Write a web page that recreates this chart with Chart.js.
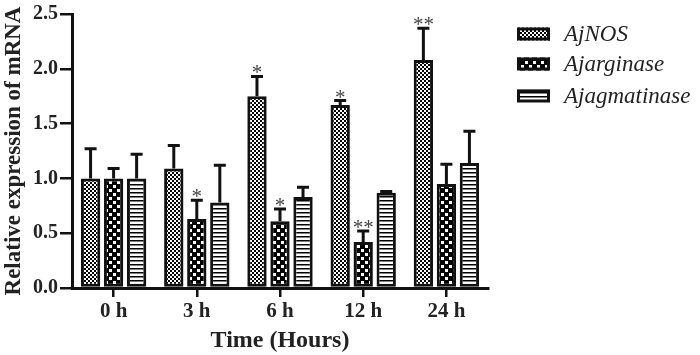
<!DOCTYPE html>
<html>
<head>
<meta charset="utf-8">
<script src="https://cdn.jsdelivr.net/npm/chart.js@4.4.1/dist/chart.umd.min.js"></script>
<style>
  html, body { margin: 0; padding: 0; background: #fff; }
  #wrap { width: 700px; height: 355px; position: relative; }
</style>
</head>
<body>
<div id="wrap"><canvas id="c" width="700" height="355"></canvas></div>
<script>
// ---- data ----
const categories = ['0 h', '3 h', '6 h', '12 h', '24 h'];
const seriesNames = ['AjNOS', 'Ajarginase', 'Ajagmatinase'];
const nosValues = [1.00, 1.09, 1.75, 1.67, 2.08];
const nosSD     = [0.27, 0.21, 0.18, 0.04, 0.29];
const nosSig    = ['', '', '*', '*', '**'];
const argValues = [1.00, 0.63, 0.61, 0.42, 0.95];
const argSD     = [0.09, 0.17, 0.11, 0.10, 0.18];
const argSig    = ['', '*', '*', '**', ''];
const agmValues = [1.00, 0.78, 0.83, 0.87, 1.14];
const agmSD     = [0.22, 0.34, 0.09, 0.01, 0.29];
const agmSig    = ['', '', '', '', ''];
const yTicks    = [0, 0.5, 1.0, 1.5, 2.0, 2.5];

const SERIF = "'Liberation Serif', 'Times New Roman', serif";

// ---- fill patterns ----
function makePattern(w, h, draw) {
  const cv = document.createElement('canvas');
  cv.width = w; cv.height = h;
  const g = cv.getContext('2d');
  g.fillStyle = '#fff'; g.fillRect(0, 0, w, h);
  g.fillStyle = '#000';
  draw(g);
  return document.getElementById('c').getContext('2d').createPattern(cv, 'repeat');
}
const patNOS = makePattern(4, 4, g => { g.fillRect(0, 0, 2, 2); g.fillRect(2, 2, 2, 2); });
const patARG = makePattern(8, 8, g => {
  g.fillRect(0, 0, 8, 8);
  g.fillStyle = '#fff';
  g.fillRect(1, 1, 3, 3); g.fillRect(5, 5, 3, 3);
});
const patAGM = makePattern(4, 4, g => { g.fillRect(0, 0, 4, 1.5); });

const errArrays = [nosSD, argSD, agmSD];
const sigArrays = [nosSig, argSig, agmSig];

const errorBarPlugin = {
  id: 'errorBars',
  afterDatasetsDraw(chart) {
    const ctx = chart.ctx;
    const ys = chart.scales.y;
    ctx.save();
    chart.data.datasets.forEach((ds, i) => {
      const meta = chart.getDatasetMeta(i);
      meta.data.forEach((bar, j) => {
        const v = ds.data[j];
        const top = ys.getPixelForValue(v + errArrays[i][j]);
        ctx.strokeStyle = '#111';
        ctx.lineWidth = 3;
        ctx.beginPath();
        ctx.moveTo(bar.x, bar.y);
        ctx.lineTo(bar.x, top);
        ctx.moveTo(bar.x - 6, top);
        ctx.lineTo(bar.x + 6, top);
        ctx.stroke();
        const s = sigArrays[i][j];
        if (s) {
          ctx.fillStyle = '#444';
          ctx.font = '21px ' + SERIF;
          ctx.textAlign = 'center';
          ctx.textBaseline = 'alphabetic';
          ctx.fillText(s, bar.x, top + 3);
        }
      });
    });
    ctx.restore();
  }
};

const legendPlugin = {
  id: 'sideLegend',
  afterDraw(chart) {
    const ctx = chart.ctx;
    ctx.save();
    const x0 = 517, bw = 33, bh = 13;
    const rows = [34, 64, 96];
    chart.data.datasets.forEach((ds, i) => {
      const cy = rows[i];
      ctx.fillStyle = ds.backgroundColor;
      ctx.fillRect(x0, cy - bh / 2, bw, bh);
      ctx.strokeStyle = '#111';
      ctx.lineWidth = 3;
      ctx.strokeRect(x0 + 1.5, cy - bh / 2 + 1.5, bw - 3, bh - 3);
      ctx.fillStyle = '#222';
      ctx.font = 'italic 23px ' + SERIF;
      ctx.textAlign = 'left';
      ctx.textBaseline = 'middle';
      ctx.fillText(ds.label, 564, cy + 1);
    });
    ctx.restore();
  }
};

const common = { borderColor: '#111', borderWidth: 3, borderSkipped: false,
                 categoryPercentage: 0.83, barPercentage: 0.84 };

new Chart(document.getElementById('c'), {
  type: 'bar',
  data: {
    labels: categories,
    datasets: [
      Object.assign({ label: seriesNames[0], data: nosValues, backgroundColor: patNOS }, common),
      Object.assign({ label: seriesNames[1], data: argValues, backgroundColor: patARG }, common),
      Object.assign({ label: seriesNames[2], data: agmValues, backgroundColor: patAGM }, common)
    ]
  },
  options: {
    responsive: false,
    animation: false,
    devicePixelRatio: 1,
    layout: { padding: { left: 0, right: 212, top: 12, bottom: 0 } },
    plugins: { legend: { display: false }, tooltip: { enabled: false } },
    scales: {
      x: {
        offset: true,
        grid: { display: true, drawOnChartArea: false, drawTicks: true, tickLength: 9,
                color: '#111', lineWidth: 2.5, offset: false },
        border: { display: true, color: '#111', width: 3 },
        ticks: { color: '#222', padding: 2, font: { family: SERIF, size: 21, weight: 'bold' } },
        title: { display: true, text: 'Time (Hours)', color: '#222',
                 font: { family: SERIF, size: 24, weight: 'bold' }, padding: { top: 0, bottom: 0 } },
        afterFit(s) { s.height = 67; }
      },
      y: {
        min: 0, max: 2.5,
        afterBuildTicks(s) { s.ticks = yTicks.map(v => ({ value: v })); },
        grid: { display: true, drawOnChartArea: false, drawTicks: true, tickLength: 12,
                color: '#111', lineWidth: 2.5 },
        border: { display: true, color: '#111', width: 3 },
        ticks: { color: '#222', padding: 2, font: { family: SERIF, size: 20, weight: 'bold' },
                 callback: v => Number(v).toFixed(1) },
        title: { display: true, text: 'Relative expression of mRNA', color: '#222',
                 font: { family: SERIF, size: 23, weight: 'bold' }, padding: { top: 0, bottom: 0 } },
        afterFit(s) { s.width = 72; }
      }
    }
  },
  plugins: [errorBarPlugin, legendPlugin]
});
</script>
</body>
</html>
